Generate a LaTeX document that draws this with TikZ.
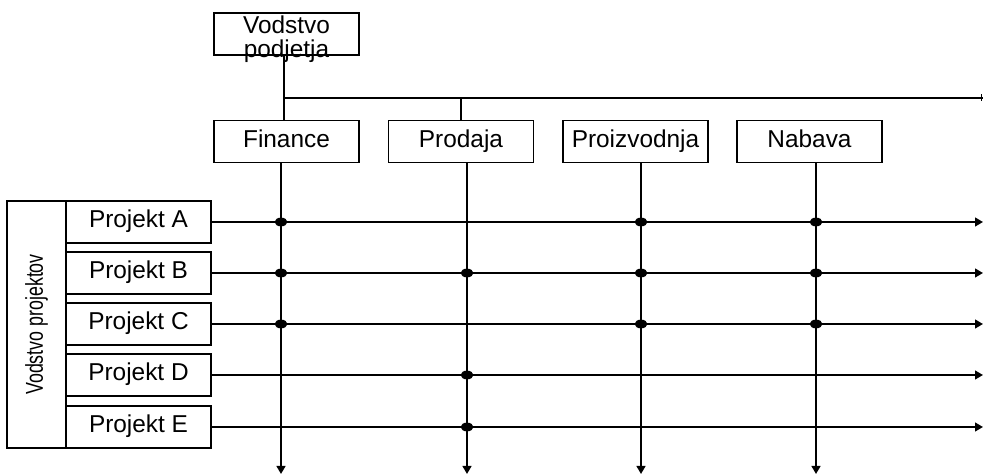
\documentclass[tikz,border=0pt]{standalone}
\usepackage{fontspec}
\setmainfont{Liberation Sans}
\usetikzlibrary{arrows.meta,calc}
\begin{document}
\begin{tikzpicture}[x=0.5pt,y=-0.5pt,
  box/.style={draw,line width=0.85pt,inner sep=0pt,
    font=\fontsize{12.2}{10}\selectfont},
  deptbox/.style={box,minimum width=72.5pt,minimum height=21pt,
    text height=8.5pt,text depth=2.5pt},
  projbox/.style={box,minimum width=72.5pt,minimum height=21pt,
    text height=8pt,text depth=2.5pt},
  link/.style={line width=0.9pt},
  flow/.style={link,-{Triangle[length=4pt,width=4.4pt]}},
  hub/.style={fill=black}
]
\useasboundingbox (0,0) rectangle (983,474);
\coordinate (bottom) at (0,474);
\coordinate (right) at (983,0);

% top management (two tight lines, allowed to overhang the frame)
\node[box,minimum width=72.5pt,minimum height=21pt] (vp) at (286.5,34)
  {\raisebox{-6pt}[0pt][0pt]{\begin{tabular}{@{}c@{}}Vodstvo\\podjetja\end{tabular}}};

% departments
\node[deptbox] (fin) at (286.5,141.5) {Finance};
\node[deptbox] (pro) at (461,141.5) {Prodaja};
\node[deptbox] (prz) at (635.5,141.5) {Proizvodnja};
\node[deptbox] (nab) at (809.5,141.5) {Nabava};

% project management
\node[box,rotate=90,minimum width=123.5pt,minimum height=29.5pt] (vpr) at (36.5,324.5)
  {\scalebox{0.73}[1]{Vodstvo projektov}};
\node[projbox] (pA) at (138.5,222) {Projekt A};
\node[projbox] (pB) at (138.5,273) {Projekt B};
\node[projbox] (pC) at (138.5,324) {Projekt C};
\node[projbox] (pD) at (138.5,375) {Projekt D};
\node[projbox] (pE) at (138.5,427) {Projekt E};

% hierarchy lines
\coordinate (stemTop) at ($(vp.south)+(-2.5,0)$);
\coordinate (stemBot) at ($(fin.north)+(-2.5,0)$);
\coordinate (busL) at (stemTop |- 0,98);
\coordinate (busR) at (right |- busL);
\draw[link] (stemTop) -- (stemBot);
\draw[link] (busL) -- (busR);
\draw[link] (pro.north |- busL) -- (pro.north);
\draw[link] ($(prz.north)+(1.5,0)$ |- busL) -- ($(prz.north)+(1.5,0)$);
\draw[link] ($(nab.north)+(0.5,0)$ |- busL) -- ($(nab.north)+(0.5,0)$);
\draw[link] ($(busR)+(-1.5,-3.5)$) -- ++(0,7);

% department columns
\coordinate (cF) at ($(fin.south)+(-5.5,0)$);
\coordinate (cP) at ($(pro.south)+(6,0)$);
\coordinate (cZ) at ($(prz.south)+(5.5,0)$);
\coordinate (cN) at ($(nab.south)+(6.5,0)$);
\foreach \c in {cF,cP,cZ,cN}
  \draw[flow] (\c) -- (\c |- bottom);

% project rows
\foreach \p in {pA,pB,pC,pD,pE}
  \draw[flow] (\p.east) -- (\p.east -| right);

% participation of departments in projects
\foreach \c/\p in {cF/pA,cZ/pA,cN/pA,
                   cF/pB,cP/pB,cZ/pB,cN/pB,
                   cF/pC,cZ/pC,cN/pC,
                   cP/pD,cP/pE}
  \fill[hub] (\c |- \p.east) ellipse [x radius=3.2pt,y radius=2.2pt];
\end{tikzpicture}
\end{document}
